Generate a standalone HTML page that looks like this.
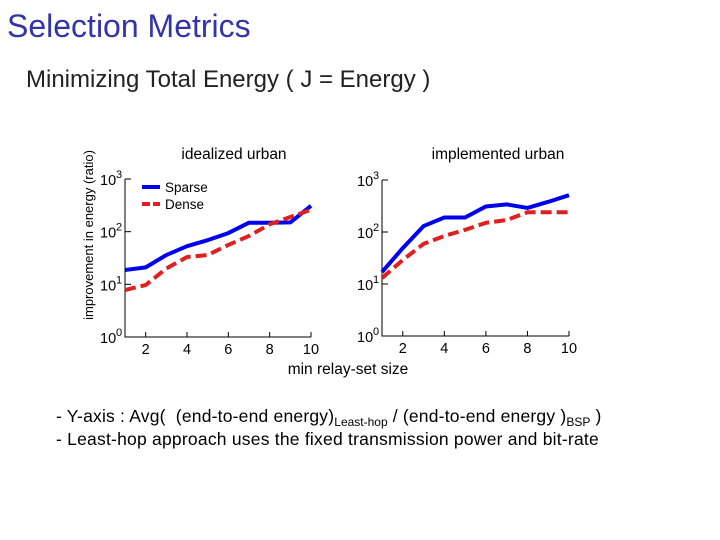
<!DOCTYPE html>
<html><head><meta charset="utf-8"><style>
html,body{margin:0;padding:0;background:#fff;}
body{width:720px;height:540px;position:relative;overflow:hidden;font-family:"Liberation Sans",sans-serif;}
.t{position:absolute;white-space:nowrap;}
</style></head><body>
<div class="t" style="left:7px;top:8px;font-size:32px;color:#3333aa;">Selection Metrics</div>
<div class="t" style="left:26px;top:66px;font-size:24px;color:#222;">Minimizing Total Energy ( J = Energy )</div>
<svg id="chart" width="720" height="540" style="position:absolute;left:0;top:0;" font-family="Liberation Sans, sans-serif"></svg>
<div class="t" style="left:56px;top:406px;font-size:17.5px;color:#000;letter-spacing:0.2px;">- Y-axis : Avg(&nbsp; (end-to-end energy)<span style="font-size:12px;position:relative;top:4px;letter-spacing:0">Least-hop</span> / (end-to-end energy )<span style="font-size:12px;position:relative;top:4px;letter-spacing:0">BSP</span> )</div>
<div class="t" style="left:56px;top:429px;font-size:17.5px;color:#000;letter-spacing:0.22px;">- Least-hop approach uses the fixed transmission power and bit-rate</div>
<script>
const xValues=[1,2,3,4,5,6,7,8,9,10];
const xTicks=[2,4,6,8,10];
const yExps=[0,1,2,3];
const idealSparse=[18.7,21,36,53,69,94,148,148,150,310];
const idealDense=[7.8,9.7,20,33,36,56,83,138,190,260];
const implSparse=[17,49,130,190,190,310,340,290,380,510];
const implDense=[13,29,59,84,110,150,170,240,240,240];
const NS="http://www.w3.org/2000/svg";
const svg=document.getElementById('chart');
function mk(tag,attrs,parent){const e=document.createElementNS(NS,tag);for(const k in attrs)e.setAttribute(k,attrs[k]);(parent||svg).appendChild(e);return e;}
function panel(name,x0,x1,yTop,yBot,title,titleX,sparse,dense,legend){
  const g=mk('g',{});
  
  
  const sx=v=>x0+(v-1)*(x1-x0)/9;
  const sy=v=>yBot-Math.log10(v)*(yBot-yTop)/3;
  const ax=mk('path',{d:`M${x0},${yTop} V${yBot} H${x1}`,stroke:'#000','stroke-width':1,fill:'none'},g);
  
  
  yExps.forEach(e=>{const y=sy(Math.pow(10,e));mk('line',{x1:x0,x2:x0+6,y1:y,y2:y,stroke:'#000'},g);
    const t=mk('text',{x:x0-25,y:y+6,'font-size':14.5,fill:'#000'},g);t.textContent='10';
    
    const s=mk('text',{x:x0-9,y:y-1,'font-size':11,fill:'#000'},g);s.textContent=String(e);});
  xTicks.forEach(v=>{const x=sx(v);mk('line',{x1:x,x2:x,y1:yBot,y2:yBot-5,stroke:'#000'},g);
    const t=mk('text',{x:x,y:yBot+17,'font-size':14.5,'text-anchor':'middle',fill:'#000'},g);t.textContent=String(v);
    });
  const tt=mk('text',{x:titleX,y:159,'font-size':15.5,'text-anchor':'middle',fill:'#000'},g);tt.textContent=title;
  
  const pts=a=>a.map((v,i)=>sx(xValues[i])+','+sy(v)).join(' ');
  const ps=mk('polyline',{points:pts(sparse),stroke:'#0000ee','stroke-width':4,fill:'none','stroke-linejoin':'round'},g);
  
  const pd=mk('polyline',{points:pts(dense),stroke:'#e02020','stroke-width':4,fill:'none','stroke-dasharray':'11,5'},g);
  
  if(legend){
    const lg=mk('g',{},g);
    mk('line',{x1:142,x2:160,y1:187,y2:187,stroke:'#0000ee','stroke-width':4},lg);
    const a=mk('text',{x:165,y:192,'font-size':13.5},lg);a.textContent='Sparse';
    mk('line',{x1:142,x2:160,y1:204,y2:204,stroke:'#e02020','stroke-width':4,'stroke-dasharray':'8,3'},lg);
    const b=mk('text',{x:165,y:209,'font-size':13.5},lg);b.textContent='Dense';
  }
}
panel('idealized-urban-panel',125,311,179,337,'idealized urban',234,idealSparse,idealDense,true);
panel('implemented-urban-panel',382,569,180,336,'implemented urban',498,implSparse,implDense,false);
const xl=mk('text',{x:348,y:374,'font-size':15.5,'text-anchor':'middle'});xl.textContent='min relay-set size';

const yl=mk('text',{x:0,y:0,'font-size':13,'text-anchor':'middle',transform:'translate(93,235) rotate(-90)'});yl.textContent='improvement in energy (ratio)';

</script>
</body></html>
